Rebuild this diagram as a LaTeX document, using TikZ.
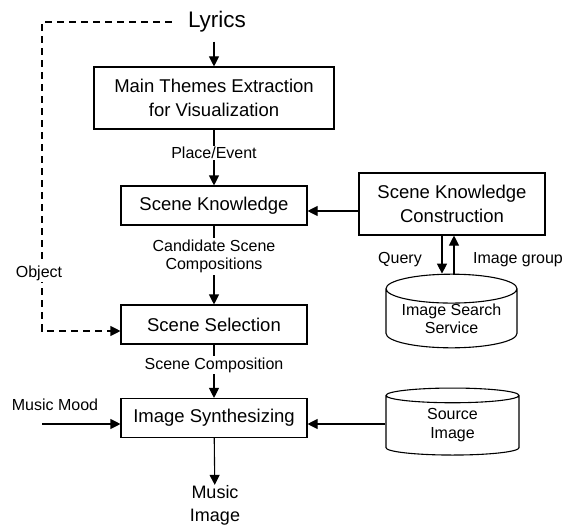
\documentclass[tikz,border=0pt]{standalone}
\usepackage{fontspec}
\setmainfont{Liberation Sans}
\usetikzlibrary{shapes.geometric,arrows.meta,positioning,calc}

\begin{document}
\begin{tikzpicture}[
    x=1pt, y=-1pt,
    box/.style={rectangle, draw=black, line width=1.1pt, align=center, inner sep=0pt, minimum width=186pt, minimum height=39pt, font=\fontsize{18.5}{24}\selectfont},
    store/.style={cylinder, shape border rotate=90, aspect=0.29, draw=black, line width=1.1pt, align=center, inner sep=0pt, minimum width=131pt, minimum height=67pt, font=\fontsize{16}{18}\selectfont},
    lbl/.style={align=center, inner sep=1.5pt, font=\fontsize{16}{18.5}\selectfont},
    arrow/.style={-{Triangle[length=10pt,width=10pt]}, line width=1.1pt},
    dasharrow/.style={arrow, dash pattern=on 7pt off 5pt}
]
\useasboundingbox (0,0) rectangle (565,527);

% main chain
\node[font=\fontsize{22.5}{27}\selectfont, inner sep=0pt] (lyrics) at (217,22) {Lyrics};
\node[box, minimum width=240pt, minimum height=62pt] (extract) at (214,98) {Main Themes Extraction\\for Visualization};
\node[box] (knowledge) at (214,205.5) {Scene Knowledge};
\node[box] (selection) at (214,324.5) {Scene Selection};
\node[box] (synth) at (214,418) {Image Synthesizing};
\node[align=center, inner sep=0pt, font=\fontsize{18}{23}\selectfont] (music) at (215,505) {Music\\Image};

% right side
\node[box, minimum width=186pt, minimum height=62pt] (construct) at (452,204) {Scene Knowledge\\Construction};
\node[store] (search) at (451.5,318.5) {Image Search\\Service};
\node[store, minimum width=133pt, font=\fontsize{16}{19}\selectfont] (source) at (452.5,425.5) {Source\\Image};

% free ends
\coordinate (corner) at (42,331);
\coordinate (moodin) at (42,424);

% Arrows
\draw[arrow, shorten <=9pt] (extract.north |- lyrics.south) -- (extract.north);
\draw[arrow] (extract) -- node[lbl, fill=white, pos=0.42] {Place/Event} (knowledge);
\draw[arrow] (knowledge) -- node[lbl, fill=white, pos=0.39] {Candidate Scene\\Compositions} (selection);
\draw[arrow] (selection) -- node[lbl, fill=white, pos=0.39] {Scene Composition} (synth);
\draw[arrow] (synth) -- (music);
\draw[arrow] ([yshift=-7pt]construct.west) -- ([yshift=-7pt]construct.west -| knowledge.east);
\draw[arrow] ([xshift=-10pt]construct.south) -- ([xshift=-10pt]construct.south |- search.north);
\draw[arrow] ([xshift=2pt]construct.south |- search.north) -- ([xshift=2pt]construct.south);
\draw[arrow] (source.west |- moodin) -- (synth.east |- moodin);
\draw[arrow] (moodin) -- (synth.west |- moodin);
\draw[dasharrow] ([xshift=-16pt]lyrics.west) -| (corner) -- (selection.west |- corner);

% labels
\node[lbl, fill=white] (object) at (39,273) {Object};
\node[lbl] (query) at (400,260) {Query};
\node[lbl] (imggroup) at (518,260) {Image group};
\node[lbl] (mood) at (55,405) {Music Mood};

\end{tikzpicture}
\end{document}
